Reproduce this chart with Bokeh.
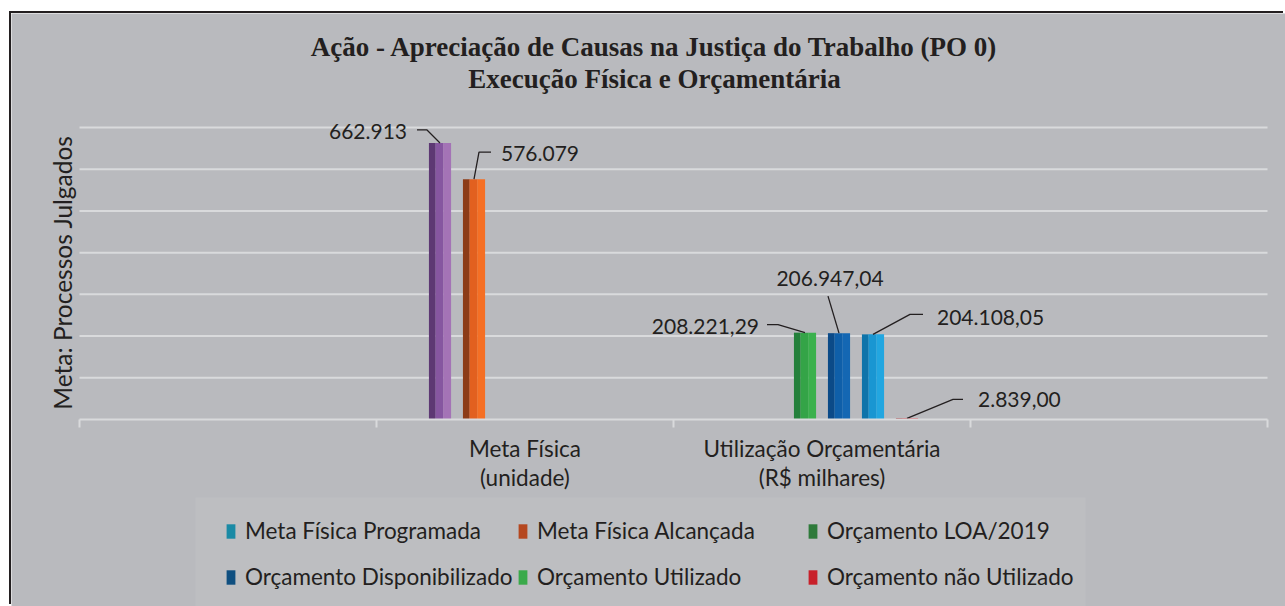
import math
from bokeh.plotting import figure
from bokeh.models import (Range1d, FixedTicker, Legend, LegendItem, LabelSet, Label,
                          ColumnDataSource, BoxAnnotation)
from bokeh.core.properties import value
from bokeh.embed import file_html
from bokeh.resources import INLINE

# ---------------- data ----------------
categories = ["", "Meta Física\n(unidade)", "Utilização Orçamentária\n(R$ milhares)", ""]
series = ["Meta Física Programada", "Meta Física Alcançada", "Orçamento LOA/2019",
          "Orçamento Disponibilizado", "Orçamento Utilizado", "Orçamento não Utilizado"]
series_category = [1, 1, 2, 2, 2, 2]
series_values = [662913, 576079, 208221.29, 206947.04, 204108.05, 2839.00]
value_labels = ["662.913", "576.079", "208.221,29", "206.947,04", "204.108,05", "2.839,00"]
y_ticks = [0, 100000, 200000, 300000, 400000, 500000, 600000, 700000]
title_lines = ["Ação - Apreciação de Causas na Justiça do Trabalho (PO 0)",
               "Execução Física e Orçamentária"]
y_label = "Meta: Processos Julgados"

# ---------------- styles / layout ----------------
BG = "#b9babe"
GRID = "#d9dadc"
TXT = "#231f20"
bar_dark = ["#5d3873", "#8c3c18", "#24803b", "#0b4a88", "#0e74aa", "#9a1a20"]
bar_mid = ["#8656a0", "#e2601f", "#34a447", "#0f5fa9", "#1996d2", "#d0202a"]
bar_light = ["#a473b6", "#f56f24", "#3bb14d", "#1467b3", "#22a6e0", "#e0333b"]
legend_colors = ["#1a8aa5", "#b5471f", "#2e7a3a", "#0f4f80", "#3aaa4a", "#c8202a"]
# leader lines: points in px offsets from bar top (x right, y up)
leader_px = [[(0, 0), (-13, 13), (-23, 13)],
             [(0, 0), (5, 27), (17, 27)],
             [(0, 0), (-27, 8), (-38, 8)],
             [(0, 0), (-11, 37)],
             [(0, 0), (37, 20), (50, 20)],
             [(0, 0), (46, 19), (56, 19)]]
label_px = [(-33, 11, "right"), (27, 26, "left"), (-46, 6, "right"),
            (-9, 55, "center"), (64, 17, "left"), (71, 19, "left")]
legend_cols_x = [214, 506, 796]   # canvas px of each legend column
legend_bottom = 16

W, H = 1274, 593          # canvas (page offset 11, 13)
PL, PW = 68, 1188         # plot area left / width in canvas px
PBASE, PH = 406, 292      # baseline y from top / px height of top tick
ncat = len(categories)
kx = ncat / PW
ky = y_ticks[-1] / PH
step = 34 * kx
bw = 22 * kx
nser = len(series)

p = figure(width=W, height=H,
           x_range=Range1d(-PL * kx, (W - PL) * kx),
           y_range=Range1d(-(H - PBASE) * ky, PBASE * ky),
           output_backend="svg", toolbar_location=None,
           min_border_left=0, min_border_right=0, min_border_top=0, min_border_bottom=0)
p.styles = {"margin-left": "11px", "margin-top": "13px",
            "box-shadow": "-2px -2px 0px 0px #231f20"}
p.background_fill_color = BG
p.border_fill_color = BG
p.outline_line_color = None
p.xgrid.visible = False
p.ygrid.visible = False
p.yaxis.visible = False

# lighter panel behind the legend
p.add_layout(BoxAnnotation(left=184, right=1074, bottom=0, top=109,
                           left_units="screen", right_units="screen",
                           bottom_units="screen", top_units="screen",
                           fill_color="#bdbec1", fill_alpha=1, line_color=None,
                           level="underlay"))

# gridlines over the plot area
p.segment(x0=0, x1=ncat, y0=y_ticks[1:], y1=y_ticks[1:], line_color=GRID, line_width=2)

# x axis at value 0
xa = p.xaxis[0]
xa.fixed_location = 0
xa.bounds = (0, ncat)
centers = [i + 0.5 for i, c in enumerate(categories) if c]
xa.ticker = FixedTicker(ticks=centers, minor_ticks=list(range(ncat + 1)))
xa.major_label_overrides = {i + 0.5: c for i, c in enumerate(categories) if c}
xa.axis_line_color = GRID
xa.axis_line_width = 2
xa.major_tick_line_color = None
xa.minor_tick_line_color = GRID
xa.minor_tick_line_width = 2
xa.minor_tick_in = 0
xa.minor_tick_out = 8
xa.major_label_standoff = 7
xa.major_label_text_font = "Lato"
xa.major_label_text_font_size = "22.5px"
xa.major_label_text_color = TXT
xa.major_label_text_line_height = 1.08

# bars
xs = [series_category[i] + 0.5 + (i - (nser - 1) / 2) * step for i in range(nser)]
strips = [(-0.35, 0.30, bar_dark), (-0.025, 0.35, bar_mid), (0.325, 0.35, bar_light)]
for off, frac, cols in strips:
    src = ColumnDataSource(dict(x=[x + off * bw for x in xs], top=series_values, c=cols))
    p.vbar(x="x", top="top", width=frac * bw * 1.02, bottom=0, source=src,
           fill_color="c", line_color=None)

# leader lines
lx = [[xs[i] + dx * kx for dx, dy in leader_px[i]] for i in range(nser)]
ly = [[series_values[i] + dy * ky for dx, dy in leader_px[i]] for i in range(nser)]
p.multi_line(xs=lx, ys=ly, line_color=TXT, line_width=1.3)

# value labels
lsrc = ColumnDataSource(dict(x=xs, y=series_values, t=value_labels,
                             xo=[l[0] for l in label_px], yo=[l[1] for l in label_px],
                             al=[l[2] for l in label_px]))
p.add_layout(LabelSet(x="x", y="y", text="t", x_offset="xo", y_offset="yo", source=lsrc,
                      text_align="al", text_baseline="middle", text_font=value("Lato"),
                      text_font_size=value("21px"), text_color=TXT))

# title (two centred lines)
for i, line in enumerate(title_lines):
    p.add_layout(Label(x=643, y=H - 33 - 32 * i, x_units="screen", y_units="screen",
                       text=line, text_align="center", text_baseline="middle",
                       text_font="Liberation Serif", text_font_style="bold",
                       text_font_size="27px", text_color=TXT))

# y axis title
p.add_layout(Label(x=51, y=H - 259, x_units="screen", y_units="screen", text=y_label,
                   angle=math.pi / 2, text_align="center", text_baseline="middle",
                   text_font="Lato", text_font_size="24.5px", text_color=TXT))

# legend swatch renderer (zero-height, carries the legend colours)
sw_src = ColumnDataSource(dict(x=xs, c=legend_colors))
sw = p.vbar(x="x", top=0, bottom=0, width=bw, source=sw_src, fill_color="c",
            line_color=None)
ncol = len(legend_cols_x)
for j, lxpos in enumerate(legend_cols_x):
    idx = [k for k in range(nser) if k % ncol == j]
    items = [LegendItem(label=series[k], renderers=[sw], index=k) for k in idx]
    p.add_layout(Legend(items=items, location=(lxpos, legend_bottom),
                        orientation="vertical",
                        glyph_width=11, glyph_height=18, label_height=20, label_standoff=9,
                        spacing=19, padding=0, margin=0,
                        label_text_font="Lato", label_text_font_size="22.5px",
                        label_text_color=TXT, border_line_color=None,
                        background_fill_alpha=0, inactive_fill_alpha=0), "center")

open("out.html", "w").write(file_html(p, INLINE))
